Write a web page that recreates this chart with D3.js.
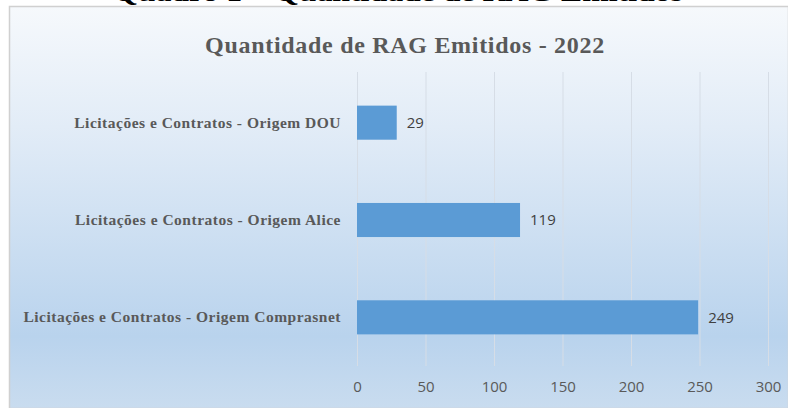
<!DOCTYPE html>
<html>
<head>
<meta charset="utf-8">
<script src="https://cdn.jsdelivr.net/npm/d3@7"></script>
<style>
html,body{margin:0;padding:0;background:#fff;}
svg{display:block;}
</style>
</head>
<body>
<svg id="chart" width="788" height="408"></svg>
<script>
const categories = [
  "Licitações e Contratos - Origem DOU",
  "Licitações e Contratos - Origem Alice",
  "Licitações e Contratos - Origem Comprasnet"
];
const values = [29, 119, 249];
const tickValues = [0, 50, 100, 150, 200, 250, 300];
const chartTitle = "Quantidade de RAG Emitidos - 2022";
const pageCaption = "Quadro 1 – Quantidade de RAG Emitidos";

const W = 788, H = 408;
const svg = d3.select("#chart");
const defs = svg.append("defs");
const grad = defs.append("linearGradient").attr("id","bg").attr("x1",0).attr("y1",0).attr("x2",0).attr("y2",1);
grad.append("stop").attr("offset","0%").attr("stop-color","#f6f9fc");
grad.append("stop").attr("offset","30%").attr("stop-color","#e2ecf7");
grad.append("stop").attr("offset","82%").attr("stop-color","#b9d3ed");
grad.append("stop").attr("offset","100%").attr("stop-color","#c9dcef");

// caption cut at the top (as in the source image)
svg.append("text")
  .attr("x", 113).attr("y", 1)
  .attr("font-family","'Liberation Serif', 'Times New Roman', serif")
  .attr("font-weight","bold").attr("font-size", 28)
  .attr("textLength", 570).attr("lengthAdjust","spacingAndGlyphs")
  .attr("fill","#000").text(pageCaption);

// chart box
svg.append("rect").attr("x", 9.5).attr("y", 6.5).attr("width", W - 9).attr("height", H - 6)
  .attr("fill","url(#bg)").attr("stroke","#d0d0d0").attr("stroke-width",1.5);

const x = d3.scaleLinear().domain([0, 300]).range([357, 768]);
const y = d3.scaleBand().domain(categories).range([74, 366]).paddingInner(0.65).paddingOuter(0.325);

// gridlines
svg.append("g").selectAll("line").data(tickValues).join("line")
  .attr("x1", d => x(d) + 0.5).attr("x2", d => x(d) + 0.5)
  .attr("y1", 72).attr("y2", 366)
  .attr("stroke", "#d6dde6").attr("stroke-width", 1);

// x axis ticks
const xAxis = d3.axisBottom(x).tickValues(tickValues).tickSize(0).tickPadding(0);
const gx = svg.append("g").attr("transform", "translate(0,381)").call(xAxis);
gx.select(".domain").remove();
gx.selectAll("text")
  .attr("font-family","'Open Sans', sans-serif").attr("font-size", 15)
  .attr("fill","#595959").attr("dy","0.71em");

// y axis labels
const yAxis = d3.axisLeft(y).tickSize(0).tickPadding(16);
const gy = svg.append("g").attr("transform", "translate(357,0)").call(yAxis);
gy.select(".domain").remove();
gy.selectAll("text")
  .attr("font-family","'Liberation Serif', 'Times New Roman', serif")
  .attr("font-weight","bold").attr("font-size", 15.5)
  .attr("letter-spacing", 0.5)
  .attr("fill","#595959");

// bars
svg.append("g").selectAll("rect").data(values).join("rect")
  .attr("x", x(0)).attr("y", (d,i) => y(categories[i]))
  .attr("width", d => x(d) - x(0)).attr("height", y.bandwidth())
  .attr("fill", "#5b9bd5");

// value labels
svg.append("g").selectAll("text").data(values).join("text")
  .attr("x", d => x(d) + 10).attr("y", (d,i) => y(categories[i]) + y.bandwidth()/2)
  .attr("dy","0.36em")
  .attr("font-family","'Open Sans', sans-serif").attr("font-size", 15)
  .attr("fill","#404040").text(d => d);

// title
svg.append("text").attr("x", 405).attr("y", 53).attr("text-anchor","middle")
  .attr("font-family","'Liberation Serif', 'Times New Roman', serif")
  .attr("font-weight","bold").attr("font-size", 24)
  .attr("letter-spacing", 0.7)
  .attr("fill","#595959").text(chartTitle);
</script>
</body>
</html>
